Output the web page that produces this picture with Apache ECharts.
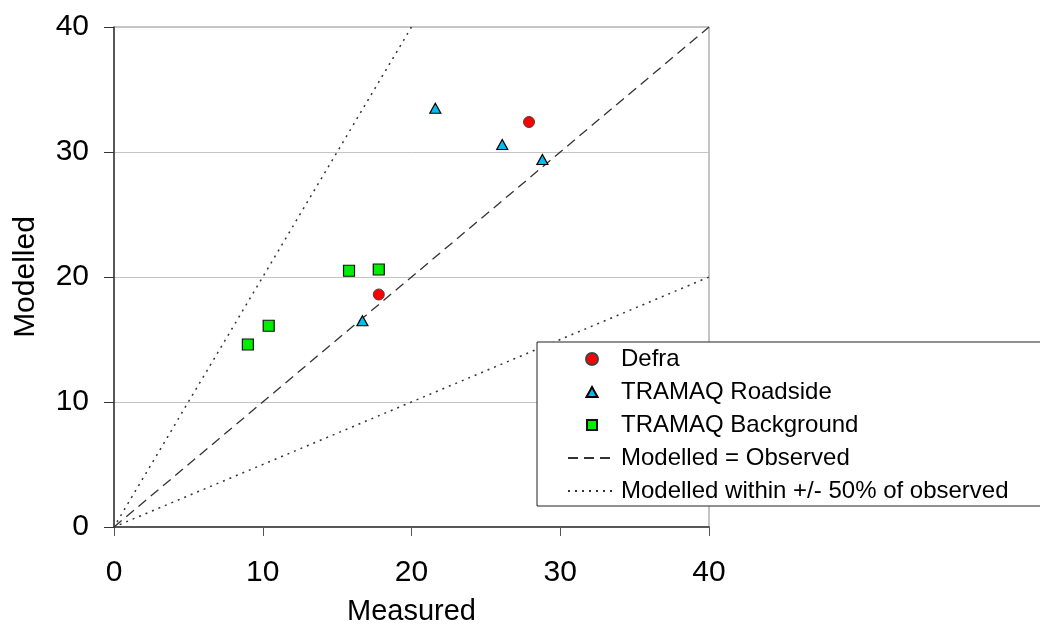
<!DOCTYPE html>
<html lang="en">
<head>
    <meta charset="UTF-8">
    <title>Modelled vs Measured</title>
    <script src="https://cdn.jsdelivr.net/npm/echarts@6/dist/echarts.min.js"></script>
    <style>
        html, body { margin: 0; padding: 0; background: #fff; }
        #chart { width: 1040px; height: 637px; }
    </style>
</head>
<body>
    <div id="chart"></div>
    <script>
        // values
        var defraX = [27.9, 17.8];
        var defraY = [32.4, 18.6];
        var roadsideX = [21.6, 26.1, 28.8, 16.7];
        var roadsideY = [33.5, 30.6, 29.4, 16.5];
        var backgroundX = [15.8, 17.8, 10.4, 9.0];
        var backgroundY = [20.5, 20.6, 16.1, 14.6];
        var equalLine = [[0, 0], [40, 40]];
        var fiftyLine = [[20, 40], [0, 0], [40, 20]];
        var axisTicks = [0, 10, 20, 30, 40];

        function pairs(xs, ys) {
            return xs.map(function (x, i) { return [x, ys[i]]; });
        }

        var font = 'Arial, "Liberation Sans", sans-serif';
        var myChart = echarts.init(document.getElementById('chart'));

        // legend icons padded out to the full 48x12 icon box so they are not stretched
        var triIcon = 'path://M0 0M48 12M24 1L29.5 11L18.5 11Z';
        var rectIcon = 'path://M0 0M48 12M19 1L29 1L29 11L19 11Z';
        var hideDot = { color: 'rgba(0,0,0,0)', borderColor: 'rgba(0,0,0,0)', borderWidth: 0, opacity: 0 };

        var option = {
            animation: false,
            grid: {
                left: 114, right: 331, top: 27, bottom: 110,
                show: true, borderColor: '#8a8a8a', borderWidth: 1
            },
            legend: {
                orient: 'vertical',
                left: 537, top: 342,
                padding: [5, 60, 3, 30],
                itemWidth: 48, itemHeight: 12, itemGap: 9,
                symbolKeepAspect: true,
                backgroundColor: '#fff',
                borderColor: '#222', borderWidth: 1,
                textStyle: { fontFamily: font, fontSize: 24, color: '#000' },
                data: [
                    { name: 'Defra', icon: 'circle' },
                    { name: 'TRAMAQ Roadside', icon: triIcon },
                    { name: 'TRAMAQ Background', icon: rectIcon },
                    { name: 'Modelled = Observed', itemStyle: hideDot },
                    { name: 'Modelled within +/- 50% of observed', itemStyle: hideDot }
                ]
            },
            xAxis: {
                type: 'value', min: axisTicks[0], max: axisTicks[4], interval: 10,
                name: 'Measured', nameLocation: 'middle', nameGap: 70,
                nameTextStyle: { fontFamily: font, fontSize: 29, color: '#000' },
                axisLine: { lineStyle: { color: '#333', width: 1.5 } },
                axisTick: { show: true, inside: false, length: 9, lineStyle: { color: '#555' } },
                axisLabel: { fontFamily: font, fontSize: 30, color: '#000', margin: 31 },
                splitLine: { show: false }
            },
            yAxis: {
                type: 'value', min: axisTicks[0], max: axisTicks[4], interval: 10,
                name: 'Modelled', nameLocation: 'middle', nameGap: 73,
                nameTextStyle: { fontFamily: font, fontSize: 30, color: '#000' },
                axisLine: { show: true, lineStyle: { color: '#333', width: 1.5 } },
                axisTick: { show: true, inside: false, length: 10, lineStyle: { color: '#333' } },
                axisLabel: { fontFamily: font, fontSize: 30, color: '#000', margin: 25 },
                splitLine: { show: true, lineStyle: { color: '#c4c4c4', width: 1 } }
            },
            series: [
                {
                    name: 'Modelled = Observed', type: 'line', data: equalLine,
                    symbol: 'none', z: 2,
                    lineStyle: { color: '#333', width: 1.3, type: [10, 6] },
                    itemStyle: { color: '#333' }
                },
                {
                    name: 'Modelled within +/- 50% of observed', type: 'line', data: fiftyLine,
                    symbol: 'none', z: 2,
                    lineStyle: { color: '#333', width: 1.5, type: [2, 5] },
                    itemStyle: { color: '#333' }
                },
                {
                    name: 'Defra', type: 'scatter', data: pairs(defraX, defraY),
                    symbol: 'circle', symbolSize: 11, z: 5,
                    itemStyle: { color: '#ff0000', borderColor: '#444', borderWidth: 1, opacity: 1 }
                },
                {
                    name: 'TRAMAQ Roadside', type: 'scatter', data: pairs(roadsideX, roadsideY),
                    symbol: 'triangle', symbolSize: [11, 10], z: 5,
                    itemStyle: { color: '#00bff0', borderColor: '#000', borderWidth: 1.2, opacity: 1 }
                },
                {
                    name: 'TRAMAQ Background', type: 'scatter', data: pairs(backgroundX, backgroundY),
                    symbol: 'rect', symbolSize: 11, z: 5,
                    itemStyle: { color: '#00ee00', borderColor: '#111', borderWidth: 1.2, opacity: 1 }
                }
            ]
        };
        myChart.setOption(option);
    </script>
</body>
</html>
